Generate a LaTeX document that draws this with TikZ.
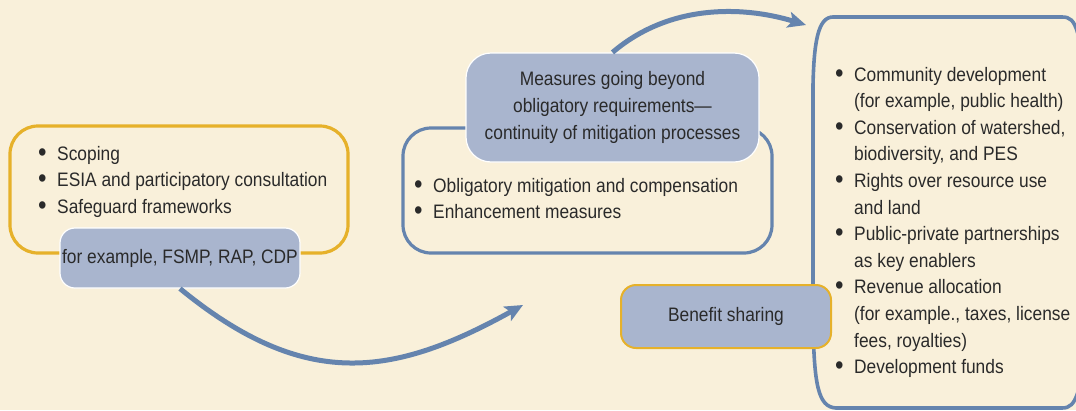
\documentclass[tikz,border=0pt]{standalone}
\usepackage{fontspec}
\setmainfont[FakeStretch=0.89]{Liberation Sans}
\usetikzlibrary{arrows.meta}
\definecolor{bg}{HTML}{F9F0DA}
\definecolor{lblue}{HTML}{A9B5CE}
\definecolor{dblue}{HTML}{6584AE}
\definecolor{gold}{HTML}{E6B12A}
\definecolor{ink}{HTML}{2A2A2A}
\newcommand\bl{\makebox[19pt][l]{\raisebox{-1pt}{\scalebox{1.4}{\textbullet}}}}
\newcommand\ind{\hspace*{19pt}}
\begin{document}
\begin{tikzpicture}[x=1pt,y=-1pt,
  every node/.style={font=\fontsize{19.5}{26.6}\selectfont, text=ink},
  lbl/.style={draw=white, line width=1.2pt, fill=lblue, rounded corners=15pt, inner sep=0pt},
  goldbox/.style={draw=gold, line width=3.2pt, rounded corners=28pt, inner sep=0pt},
  bluebox/.style={draw=dblue, line width=3.2pt, rounded corners=28pt, inner sep=0pt},
  list/.style={anchor=base west, inner sep=0pt},
  arr/.style={draw=dblue, line width=5pt, -{Stealth[length=18pt,width=16pt,inset=4pt]}}]
\fill[bg] (0,0) rectangle (1076,410);
\useasboundingbox (0,0) rectangle (1076,410);
% left box
\node[goldbox, minimum width=338pt, minimum height=127pt] (lbox) at (179,189.5) {};
\node[list] (llist) at (38,160) {\begin{tabular}[t]{@{}l@{}}
\bl Scoping\\
\bl ESIA and participatory consultation\\
\bl Safeguard frameworks
\end{tabular}};
\node[lbl, minimum width=240pt, minimum height=60pt] (ex) at (180,258) {for example, FSMP, RAP, CDP};
\coordinate (t1) at (523,305);
\coordinate (t2) at (806,25);
\draw[arr] (ex.south) .. controls (305,391) and (393,377) .. (t1);
% middle box
\node[bluebox, minimum width=369pt, minimum height=125pt] (mbox) at (587.5,190.5) {};
\node[list] (mlist) at (414,192) {\begin{tabular}[t]{@{}l@{}}
\bl Obligatory mitigation and compensation\\
\bl Enhancement measures
\end{tabular}};
\node[lbl, minimum width=293pt, minimum height=109pt, rounded corners=25pt, align=center] (mlab) at (612.5,107.5)
  {Measures going beyond\\obligatory requirements—\\continuity of mitigation processes};
\draw[arr] (mlab.north) .. controls (668,5) and (740,5) .. (t2);
% right box
\draw[dblue, line width=3.6pt] (1078,34) .. controls (1074,20) and (1070,17) .. (1062,17) -- (833,17)
  .. controls (818,17) and (814,42) .. (813,85) -- (813,320)
  .. controls (814,385) and (818,407) .. (836,408) -- (1062,408)
  .. controls (1070,408) and (1074,404) .. (1078,392);
\node[list] (rlist) at (835,81) {\begin{tabular}[t]{@{}l@{}}
\bl Community development\\
\ind (for example, public health)\\
\bl Conservation of watershed,\\
\ind biodiversity, and PES\\
\bl Rights over resource use\\
\ind and land\\
\bl Public-private partnerships\\
\ind as key enablers\\
\bl Revenue allocation\\
\ind (for example., taxes, license\\
\ind fees, royalties)\\
\bl Development funds
\end{tabular}};
\node[lbl, draw=gold, line width=2pt, minimum width=210pt, minimum height=63pt] (ben) at (726,316.5) {Benefit sharing};
\end{tikzpicture}
\end{document}
